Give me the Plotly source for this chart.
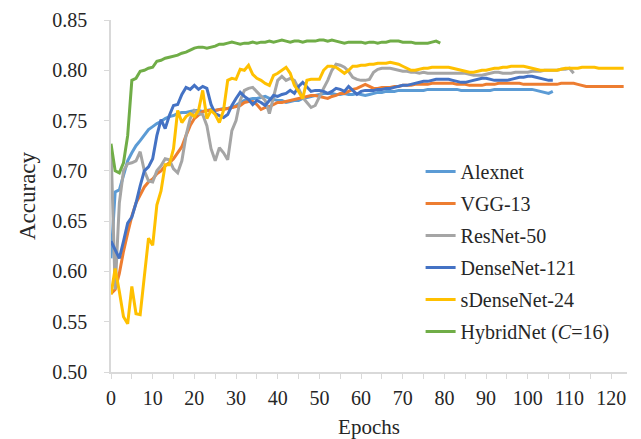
import plotly.graph_objects as go

# Validation accuracy per epoch for each network
alexnet = [
    0.613, 0.679, 0.681, 0.695, 0.710, 0.718, 0.725, 0.730, 0.736, 0.741,
    0.744, 0.747, 0.749, 0.752, 0.754, 0.755, 0.757, 0.758, 0.758, 0.759,
    0.760, 0.760, 0.759, 0.760, 0.761, 0.760, 0.761, 0.762, 0.762, 0.763,
    0.765, 0.768, 0.770, 0.771, 0.772, 0.772, 0.773, 0.774, 0.772, 0.771,
    0.770, 0.770, 0.768, 0.769, 0.770, 0.770, 0.772, 0.773, 0.774, 0.775,
    0.776, 0.777, 0.777, 0.777, 0.776, 0.776, 0.777, 0.776, 0.776, 0.777,
    0.776, 0.775, 0.776, 0.777, 0.778, 0.778, 0.779, 0.779, 0.779, 0.780,
    0.780, 0.780, 0.780, 0.780, 0.780, 0.780, 0.781, 0.781, 0.781, 0.781,
    0.781, 0.781, 0.781, 0.781, 0.780, 0.780, 0.780, 0.780, 0.780, 0.780,
    0.780, 0.780, 0.781, 0.781, 0.781, 0.781, 0.781, 0.781, 0.781, 0.781,
    0.781, 0.781, 0.780, 0.779, 0.778, 0.777, 0.779,
]

vgg13 = [
    0.578, 0.582, 0.598, 0.620, 0.638, 0.655, 0.668, 0.676, 0.684, 0.689,
    0.692, 0.697, 0.700, 0.705, 0.708, 0.712, 0.718, 0.724, 0.735, 0.745,
    0.752, 0.756, 0.759, 0.760, 0.760, 0.760, 0.761, 0.761, 0.762, 0.763,
    0.764, 0.765, 0.768, 0.769, 0.769, 0.766, 0.761, 0.763, 0.764, 0.766,
    0.768, 0.768, 0.769, 0.770, 0.771, 0.772, 0.773, 0.774, 0.775, 0.775,
    0.774, 0.773, 0.772, 0.774, 0.775, 0.777, 0.777, 0.779, 0.781, 0.782,
    0.784, 0.786, 0.784, 0.782, 0.782, 0.783, 0.783, 0.783, 0.784, 0.784,
    0.785, 0.785, 0.785, 0.786, 0.786, 0.786, 0.786, 0.787, 0.787, 0.787,
    0.787, 0.787, 0.787, 0.786, 0.786, 0.786, 0.785, 0.785, 0.785, 0.785,
    0.786, 0.786, 0.786, 0.787, 0.787, 0.787, 0.787, 0.787, 0.787, 0.786,
    0.786, 0.786, 0.786, 0.786, 0.786, 0.786, 0.786, 0.786, 0.787, 0.787,
    0.787, 0.787, 0.786, 0.785, 0.784, 0.784, 0.784, 0.784, 0.784, 0.784,
    0.784, 0.784, 0.784, 0.784,
]

resnet50 = [
    0.724, 0.582, 0.668, 0.700, 0.707, 0.708, 0.710, 0.719, 0.700, 0.690,
    0.689, 0.700, 0.705, 0.712, 0.711, 0.702, 0.698, 0.710, 0.735, 0.752,
    0.760, 0.757, 0.756, 0.745, 0.722, 0.710, 0.723, 0.718, 0.711, 0.740,
    0.750, 0.770, 0.780, 0.782, 0.783, 0.779, 0.775, 0.770, 0.757, 0.775,
    0.790, 0.794, 0.790, 0.792, 0.790, 0.782, 0.773, 0.768, 0.763, 0.765,
    0.774, 0.782, 0.790, 0.800, 0.806, 0.805, 0.803, 0.799, 0.793, 0.791,
    0.790, 0.790, 0.791, 0.798, 0.801, 0.802, 0.802, 0.802, 0.801, 0.800,
    0.799, 0.799, 0.798, 0.798, 0.797, 0.798, 0.797, 0.797, 0.797, 0.797,
    0.797, 0.797, 0.797, 0.797, 0.797, 0.797, 0.796, 0.795, 0.795, 0.795,
    0.796, 0.797, 0.798, 0.798, 0.797, 0.797, 0.797, 0.798, 0.798, 0.798,
    0.798, 0.799, 0.799, 0.799, 0.800, 0.800, 0.800, 0.800, 0.801, 0.801,
    0.802, 0.797,
]

densenet121 = [
    0.630, 0.621, 0.613, 0.630, 0.648, 0.654, 0.668, 0.685, 0.700, 0.704,
    0.712, 0.735, 0.751, 0.742, 0.755, 0.765, 0.766, 0.776, 0.783, 0.781,
    0.785, 0.781, 0.784, 0.782, 0.766, 0.757, 0.755, 0.753, 0.756, 0.765,
    0.772, 0.778, 0.774, 0.771, 0.766, 0.770, 0.768, 0.765, 0.770, 0.775,
    0.774, 0.776, 0.777, 0.780, 0.777, 0.784, 0.788, 0.783, 0.779, 0.780,
    0.780, 0.779, 0.777, 0.779, 0.782, 0.781, 0.779, 0.784, 0.780, 0.776,
    0.779, 0.780, 0.780, 0.780, 0.781, 0.781, 0.782, 0.782, 0.783, 0.784,
    0.785, 0.785, 0.786, 0.787, 0.788, 0.789, 0.789, 0.790, 0.791, 0.791,
    0.791, 0.791, 0.790, 0.789, 0.788, 0.788, 0.789, 0.790, 0.791, 0.792,
    0.792, 0.791, 0.790, 0.790, 0.790, 0.790, 0.791, 0.792, 0.793, 0.793,
    0.794, 0.794, 0.793, 0.792, 0.791, 0.790, 0.790,
]

sdensenet24 = [
    0.577, 0.603, 0.580, 0.555, 0.548, 0.585, 0.558, 0.557, 0.595, 0.633,
    0.626, 0.666, 0.680, 0.706, 0.706, 0.722, 0.760, 0.748, 0.754, 0.757,
    0.754, 0.760, 0.780, 0.752, 0.760, 0.756, 0.748, 0.760, 0.790, 0.792,
    0.791, 0.801, 0.800, 0.805, 0.796, 0.792, 0.790, 0.787, 0.785, 0.795,
    0.797, 0.800, 0.803, 0.797, 0.785, 0.779, 0.772, 0.790, 0.791, 0.791,
    0.791, 0.800, 0.804, 0.804, 0.803, 0.800, 0.797, 0.800, 0.804, 0.804,
    0.805, 0.805, 0.806, 0.806, 0.807, 0.807, 0.807, 0.808, 0.807, 0.806,
    0.804, 0.802, 0.800, 0.800, 0.801, 0.802, 0.802, 0.803, 0.803, 0.803,
    0.803, 0.803, 0.802, 0.801, 0.800, 0.799, 0.798, 0.798, 0.799, 0.800,
    0.800, 0.801, 0.802, 0.802, 0.803, 0.803, 0.804, 0.804, 0.804, 0.804,
    0.803, 0.802, 0.801, 0.800, 0.800, 0.800, 0.800, 0.800, 0.801, 0.802,
    0.802, 0.802, 0.802, 0.803, 0.803, 0.803, 0.803, 0.802, 0.802, 0.802,
    0.802, 0.802, 0.802, 0.802,
]

hybridnet = [
    0.727, 0.700, 0.698, 0.708, 0.735, 0.790, 0.792, 0.799, 0.800, 0.802,
    0.803, 0.809, 0.810, 0.812, 0.813, 0.814, 0.815, 0.817, 0.818, 0.820,
    0.822, 0.823, 0.823, 0.822, 0.823, 0.824, 0.826, 0.826, 0.827, 0.828,
    0.827, 0.826, 0.827, 0.827, 0.828, 0.827, 0.828, 0.828, 0.829, 0.828,
    0.829, 0.830, 0.829, 0.828, 0.829, 0.829, 0.828, 0.829, 0.829, 0.829,
    0.830, 0.830, 0.829, 0.830, 0.829, 0.828, 0.827, 0.828, 0.828, 0.828,
    0.828, 0.827, 0.828, 0.828, 0.827, 0.828, 0.828, 0.829, 0.829, 0.829,
    0.828, 0.828, 0.828, 0.827, 0.827, 0.827, 0.827, 0.828, 0.829, 0.827,
]

series = [
    ("Alexnet", alexnet, "#5B9BD5"),
    ("VGG-13", vgg13, "#ED7D31"),
    ("ResNet-50", resnet50, "#A5A5A5"),
    ("DenseNet-121", densenet121, "#4472C4"),
    ("sDenseNet-24", sdensenet24, "#FFC000"),
    ("HybridNet (<i>C</i>=16)", hybridnet, "#70AD47"),
]

x_ticks = list(range(0, 121, 10))
y_ticks = [0.50, 0.55, 0.60, 0.65, 0.70, 0.75, 0.80, 0.85]

FONT = "Liberation Serif"
TEXT = "#262626"
AXIS_GRAY = "#D9D9D9"

fig = go.Figure()
for i, (name, values, color) in enumerate(series):
    fig.add_trace(go.Scatter(
        x=list(range(len(values))),
        y=values,
        mode="lines",
        name=name,
        legendgroup=f"g{i}",
        line=dict(color=color, width=3),
    ))

fig.update_layout(
    width=641,
    height=439,
    margin=dict(l=111, r=14, t=20, b=67),
    paper_bgcolor="white",
    plot_bgcolor="white",
    font=dict(family=FONT, size=20, color=TEXT),
    showlegend=True,
    legend=dict(
        x=0.60, y=0.625, xanchor="left", yanchor="top",
        bgcolor="rgba(0,0,0,0)",
        font=dict(family=FONT, size=20, color=TEXT),
        tracegroupgap=3,
    ),
)

fig.update_xaxes(
    automargin=False,
    range=[0, 123.8],
    tickmode="array",
    tickvals=x_ticks,
    ticktext=[str(v) for v in x_ticks],
    showgrid=False,
    zeroline=False,
    showline=True,
    linecolor=AXIS_GRAY,
    linewidth=1.5,
    ticks="outside",
    ticklen=5,
    tickcolor=AXIS_GRAY,
    ticklabelstandoff=2,
    minor=dict(dtick=5, ticks="outside", ticklen=5, tickcolor=AXIS_GRAY, showgrid=False),
    tickfont=dict(family=FONT, size=20, color=TEXT),
    title=dict(text="Epochs", font=dict(family=FONT, size=21, color=TEXT), standoff=12),
)

fig.update_yaxes(
    automargin=False,
    range=[0.5, 0.85],
    tickmode="array",
    tickvals=y_ticks,
    ticktext=[f"{v:.2f}" for v in y_ticks],
    showgrid=False,
    zeroline=False,
    showline=True,
    linecolor=AXIS_GRAY,
    linewidth=1.5,
    ticks="outside",
    ticklen=5,
    tickcolor=AXIS_GRAY,
    ticklabelstandoff=13,
    tickfont=dict(family=FONT, size=20, color=TEXT),
    title=dict(text="Accuracy", font=dict(family=FONT, size=23, color=TEXT), standoff=10),
)

fig.write_html("out.html")
